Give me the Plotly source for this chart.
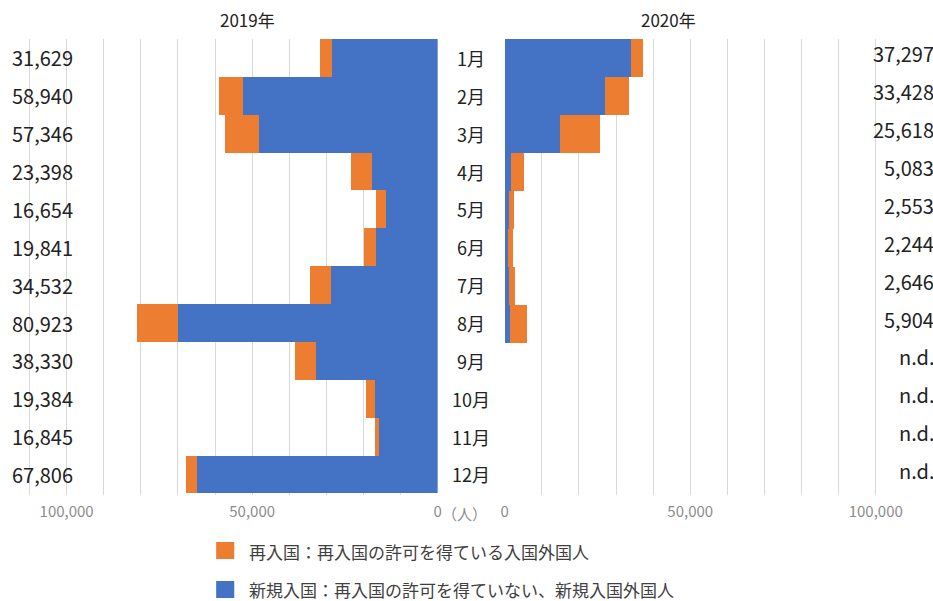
import plotly.graph_objects as go

W, H = 955, 601
REF_W = 933

months = ["1月", "2月", "3月", "4月", "5月", "6月", "7月", "8月", "9月", "10月", "11月", "12月"]

# 2019
new_2019 = [28500, 52500, 48200, 17800, 14000, 16500, 28700, 70100, 32800, 16900, 15800, 64800]
re_2019 = [3129, 6440, 9146, 5598, 2654, 3341, 5832, 10823, 5530, 2484, 1045, 3006]
total_2019_labels = ["31,629", "58,940", "57,346", "23,398", "16,654", "19,841",
                     "34,532", "80,923", "38,330", "19,384", "16,845", "67,806"]

# 2020 (Jan-Aug only)
new_2020 = [34050, 27050, 14800, 1800, 1100, 1000, 1150, 1450, None, None, None, None]
re_2020 = [3247, 6378, 10818, 3283, 1453, 1244, 1496, 4454, None, None, None, None]
total_2020_labels = ["37,297", "33,428", "25,618", "5,083", "2,553", "2,244",
                     "2,646", "5,904", "n.d.", "n.d.", "n.d.", "n.d."]

title_2019 = "2019年"
title_2020 = "2020年"
legend_re = "再入国：再入国の許可を得ている入国外国人"
legend_new = "新規入国：再入国の許可を得ていない、新規入国外国人"
unit_label = "（人）"

BLUE = "#4472C4"
ORANGE = "#ED7D31"
GRID = "#D9D9D9"
FONT = "Noto Sans CJK JP"

def px(x):
    # map a target screen x (pixels) to a paper fraction
    return (x - 6.0) / 0.9935 / REF_W

def py(y):
    return 1 - y / H

fig = go.Figure()

fig.add_trace(go.Bar(y=months, x=new_2019, orientation="h", marker=dict(color=BLUE, line_width=0),
                     xaxis="x", yaxis="y", showlegend=False))
fig.add_trace(go.Bar(y=months, x=re_2019, orientation="h", marker=dict(color=ORANGE, line_width=0),
                     xaxis="x", yaxis="y", showlegend=False))
fig.add_trace(go.Bar(y=months, x=new_2020, orientation="h", marker=dict(color=BLUE, line_width=0),
                     xaxis="x2", yaxis="y2", showlegend=False))
fig.add_trace(go.Bar(y=months, x=re_2020, orientation="h", marker=dict(color=ORANGE, line_width=0),
                     xaxis="x2", yaxis="y2", showlegend=False))

scale = 3.69 / 1000  # px per person
zero_left = 437.3
zero_right = 504.0
left_max = 115000
right_max = 102000

top, bottom = 39, 495
ydom = [py(bottom), py(top)]

axis_common = dict(
    showline=False, zeroline=False, showgrid=True, gridcolor=GRID, gridwidth=1,
    tickvals=[0, 50000, 100000], ticktext=["0", "50,000", "100,000"],
    tickfont=dict(family=FONT, size=15, color="#8C8C8C"),
    minor=dict(dtick=10000, showgrid=True, gridcolor=GRID, gridwidth=1, ticks=""),
    ticks="", ticklabelstandoff=6, fixedrange=True,
)

fig.update_layout(
    width=W, height=H, autosize=False,
    margin=dict(l=0, r=0, t=0, b=0),
    paper_bgcolor="white", plot_bgcolor="white",
    barmode="stack", bargap=0,
    font=dict(family=FONT, color="#222222"),
    xaxis=dict(domain=[px(zero_left - left_max * scale), px(zero_left)],
               range=[left_max, 0], anchor="y", **axis_common),
    xaxis2=dict(domain=[px(zero_right), min(1.0, px(zero_right + right_max * scale))],
                range=[0, right_max], anchor="y2", **axis_common),
    yaxis=dict(domain=ydom, autorange="reversed", showticklabels=False, showgrid=False,
               zeroline=False, anchor="x", categoryorder="array", categoryarray=months),
    yaxis2=dict(domain=ydom, autorange="reversed", showticklabels=False, showgrid=False,
                zeroline=False, anchor="x2", categoryorder="array", categoryarray=months),
)

ann = []
for m, t in zip(months, total_2019_labels):
    ann.append(dict(x=px(12), y=m, xref="paper", yref="y", text=t, showarrow=False,
                    xanchor="left", yanchor="middle", font=dict(family=FONT, size=20, color="#222222")))
for m, t in zip(months, total_2020_labels):
    ann.append(dict(x=min(1.0, px(933)), y=m, xref="paper", yref="y", text=t, showarrow=False, yshift=4,
                    xanchor="right", yanchor="middle", font=dict(family=FONT, size=20, color="#222222")))
for m in months:
    ann.append(dict(x=px(470), y=m, xref="paper", yref="y", text=m, showarrow=False,
                    xanchor="center", yanchor="middle", font=dict(family=FONT, size=18, color="#222222")))

ann.append(dict(x=px(248), y=py(20), xref="paper", yref="paper", text=title_2019, showarrow=False,
                xanchor="center", yanchor="middle", font=dict(family=FONT, size=17, color="#222222")))
ann.append(dict(x=px(667), y=py(20), xref="paper", yref="paper", text=title_2020, showarrow=False,
                xanchor="center", yanchor="middle", font=dict(family=FONT, size=17, color="#222222")))
ann.append(dict(x=px(464), y=py(513), xref="paper", yref="paper", text=unit_label, showarrow=False,
                xanchor="center", yanchor="middle", font=dict(family=FONT, size=15, color="#8C8C8C")))

ann.append(dict(x=px(248), y=py(551), xref="paper", yref="paper", text=legend_re, showarrow=False,
                xanchor="left", yanchor="middle", font=dict(family=FONT, size=17, color="#404040")))
ann.append(dict(x=px(248), y=py(589), xref="paper", yref="paper", text=legend_new, showarrow=False,
                xanchor="left", yanchor="middle", font=dict(family=FONT, size=17, color="#404040")))

shapes = [
    dict(type="rect", xref="paper", yref="paper", x0=px(217), x1=px(235), y0=py(559), y1=py(542),
         fillcolor=ORANGE, line_width=0),
    dict(type="rect", xref="paper", yref="paper", x0=px(217), x1=px(235), y0=py(598), y1=py(581),
         fillcolor=BLUE, line_width=0),
]

fig.update_layout(annotations=ann, shapes=shapes)

fig.write_html(
    "out.html",
    config={"responsive": False, "displayModeBar": False, "staticPlot": True},
    post_script="document.body.style.margin='0';document.body.style.overflow='hidden';",
)
